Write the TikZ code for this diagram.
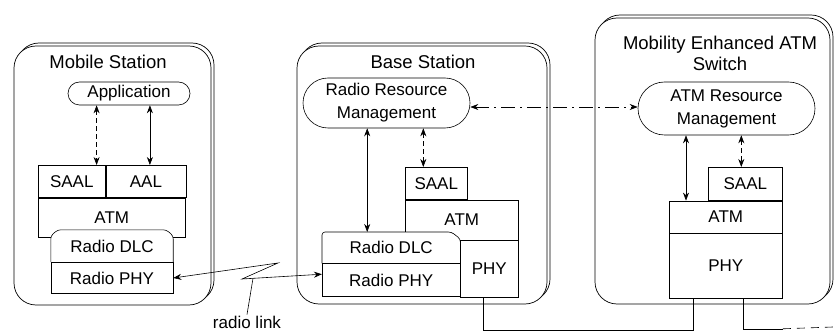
\documentclass[tikz,border=0pt]{standalone}
\usepackage{fontspec}
\setmainfont{Liberation Sans}
\usetikzlibrary{arrows.meta,positioning,shapes.misc,shadows}

\begin{document}
\begin{tikzpicture}[x=1pt,y=-1pt,>={Stealth[length=8pt,width=6pt]},
    every node/.style={font=\fontsize{17}{23}\selectfont},
    station/.style={draw,fill=white,rounded corners=22pt,line width=0.7pt,
      general shadow={shadow xshift=3pt,shadow yshift=3pt,draw,fill=white,line width=0.7pt}},
    title/.style={font=\fontsize{18.5}{21}\selectfont,align=center},
    layer/.style={draw,fill=white,inner sep=0pt,line width=0.6pt},
    pill/.style={draw,rounded rectangle,inner sep=0pt,line width=0.6pt,align=center},
    tab/.style={draw,fill=white,rounded corners=3pt,line width=0.6pt},
    link/.style={<->,line width=0.6pt},
    ctrl/.style={link,dash pattern=on 5pt off 3pt},
    signal/.style={link,dash pattern=on 14pt off 5pt on 2pt off 5pt}]
  \useasboundingbox (0,0) rectangle (835,331);

  % stations
  \node[station,minimum width=197pt,minimum height=259pt] (ms) at (112.5,175.5) {};
  \node[station,minimum width=250pt,minimum height=258pt] (bs) at (422,175) {};
  \node[station,minimum width=235pt,minimum height=286pt] (sw) at (712.5,161) {};
  \node[title] at (108,62) {Mobile Station};
  \node[title] at (423,62) {Base Station};
  \node[title] at (720,53) {Mobility Enhanced ATM\\Switch};

  % mobile station
  \node[pill,minimum width=122pt,minimum height=23pt] (app) at (129,93.5) {Application};
  \node[layer,anchor=north west,minimum width=67pt,minimum height=32pt] (msaal) at (38,165) {SAAL};
  \node[layer,right=0pt of msaal,minimum width=80pt,minimum height=32pt] (maal) {AAL};
  \node[layer,anchor=north west,minimum width=147pt,minimum height=39pt] (matm) at (msaal.south west) {ATM};
  \node[inner sep=0pt,minimum width=122pt,minimum height=32pt] (mdlc) at (112,246) {};
  \draw[tab] (mdlc.south west) -- ([yshift=-6pt]mdlc.north west) -- ([xshift=7pt]mdlc.north west)
    -- ([xshift=-7pt]mdlc.north east) -- ([yshift=-6pt]mdlc.north east) -- (mdlc.south east);
  \node at (mdlc) {Radio DLC};
  \node[layer,below=0pt of mdlc,minimum width=122pt,minimum height=31pt] (mphy) {Radio PHY};

  % base station
  \node[pill,minimum width=167pt,minimum height=50pt] (rrm) at (386.5,103) {Radio Resource\\Management};
  \node[layer,anchor=north west,minimum width=62pt,minimum height=32pt] (bsaal) at (405,167) {SAAL};
  \node[layer,anchor=north west,minimum width=113pt,minimum height=40pt] (batm) at (bsaal.south west) {ATM};
  \node[inner sep=0pt,anchor=north west,minimum width=138pt,minimum height=31pt] (bdlc) at (322,232) {};
  \draw[tab] (bdlc.south west) -- (bdlc.north west) -- ([xshift=-9pt]bdlc.north east)
    -- ([yshift=-7pt]bdlc.north east) -- (bdlc.south east);
  \node at (bdlc) {Radio DLC};
  \node[layer,below=0pt of bdlc,minimum width=138pt,minimum height=33pt] (brphy) {Radio PHY};
  \node[layer,anchor=north east,minimum width=58pt,minimum height=57pt] (bphy) at (batm.south east) {PHY};

  % switch
  \node[pill,minimum width=177pt,minimum height=53pt] (atmrm) at (726.5,108.5) {ATM Resource\\Management};
  \node[layer,anchor=north west,minimum width=74pt,minimum height=33pt] (ssaal) at (708,167) {SAAL};
  \node[layer,anchor=north east,minimum width=113pt,minimum height=32pt] (satm) at (ssaal.south east) {ATM};
  \node[layer,below=0pt of satm,minimum width=113pt,minimum height=65pt] (sphy) {PHY};

  % control and user plane
  \draw[ctrl] ([xshift=-9pt]msaal.north east |- app.south) -- ([xshift=-9pt]msaal.north east);
  \draw[link] ([xshift=4pt]maal.north |- app.south) -- ([xshift=4pt]maal.north);
  \draw[link] ([xshift=-24pt]bdlc.north |- rrm.south) -- ([xshift=-24pt]bdlc.north);
  \draw[ctrl] ([xshift=-13pt]bsaal.north |- rrm.south) -- ([xshift=-13pt]bsaal.north);
  \draw[link] ([xshift=17pt]satm.north west |- atmrm.south) -- ([xshift=17pt]satm.north west);
  \draw[ctrl] ([xshift=-4pt]ssaal.north |- atmrm.south) -- ([xshift=-4pt]ssaal.north);
  \draw[signal] ([yshift=-4pt]rrm.east) -- ([yshift=-4pt]rrm.east -| atmrm.west);

  % radio link
  \coordinate (zz1) at (278,263);
  \coordinate (zz2) at (242,279);
  \coordinate (zl) at (253,278.3);
  \draw[link] (mphy.east) -- (zz1) -- (zz2) -- ([yshift=6pt]brphy.west);
  \node[inner sep=1pt] (rl) at (247,322) {radio link};
  \draw[line width=0.6pt] (rl.north) -- (zl);

  % wired links
  \coordinate (out) at (833,327);
  \draw[line width=0.6pt] ([xshift=-6pt]bphy.south) -- ++(0,32) -| ([xshift=-33pt]sphy.south);
  \draw[line width=0.6pt] ([xshift=17pt]sphy.south) -- ++(0,30) -- ++(40,0) coordinate (cut);
  \draw[line width=0.6pt,dash pattern=on 8pt off 6pt] (cut) -- (out);
\end{tikzpicture}
\end{document}
